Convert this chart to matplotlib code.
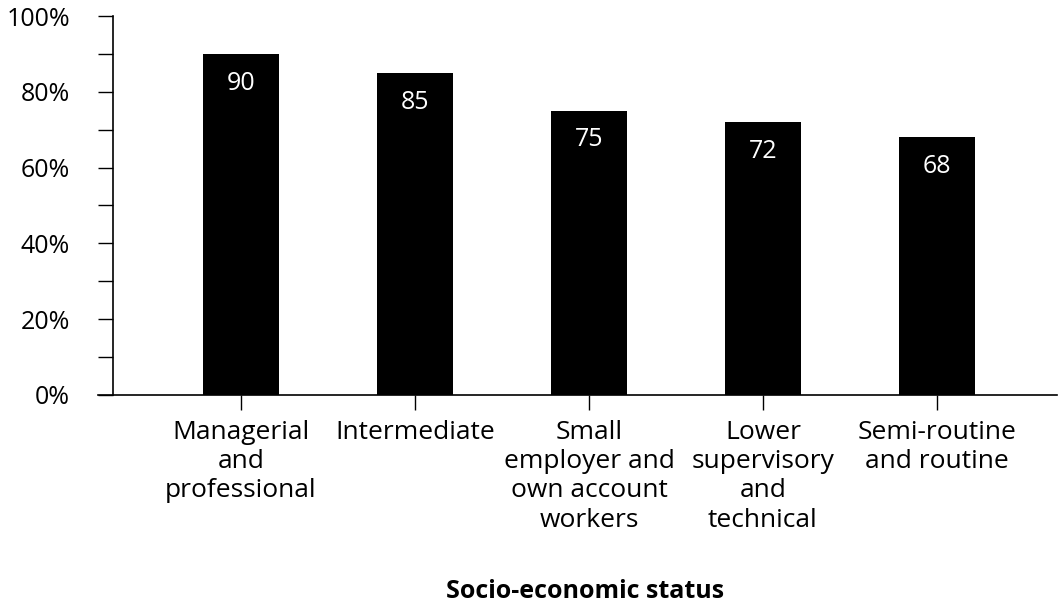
import matplotlib.pyplot as plt
from matplotlib.ticker import MultipleLocator, PercentFormatter

plt.rcParams['font.family'] = ['Open Sans', 'DejaVu Sans']

categories = [
    "Managerial\nand\nprofessional",
    "Intermediate",
    "Small\nemployer and\nown account\nworkers",
    "Lower\nsupervisory\nand\ntechnical",
    "Semi-routine\nand routine",
]
values = [90, 85, 75, 72, 68]

fig = plt.figure(figsize=(10.59, 6.07), dpi=100)
ax = fig.add_axes([0.1067, 0.3493, 0.8913, 0.6243])

x = list(range(len(categories)))
bars = ax.bar(x, values, width=0.437, color='black')

for rect, v in zip(bars, values):
    ax.annotate(str(v), (rect.get_x() + rect.get_width() / 2, v),
                xytext=(0, -21), textcoords='offset points',
                ha='center', va='center', color='white', fontsize=18)

ax.set_xlim(-0.736, 4.69)
ax.set_ylim(0, 100)
ax.yaxis.set_major_locator(MultipleLocator(20))
ax.yaxis.set_minor_locator(MultipleLocator(10))
ax.yaxis.set_major_formatter(PercentFormatter(decimals=0))

ax.set_xticks(x)
ax.set_xticklabels(categories, fontsize=19, linespacing=1.22)
ax.tick_params(axis='y', which='both', length=11, width=1, labelsize=18, pad=20)
ax.tick_params(axis='x', length=11, width=1, pad=7)

for side in ('top', 'right'):
    ax.spines[side].set_visible(False)
ax.spines['left'].set_linewidth(1.2)
ax.spines['bottom'].set_linewidth(1.2)
ax.spines['bottom'].set_bounds(-0.82, 4.69)

fig.text(0.5525, 0.026, "Socio-economic status", ha='center', va='center',
         fontsize=18, fontweight='bold')

fig.savefig('out.png', dpi=100)
